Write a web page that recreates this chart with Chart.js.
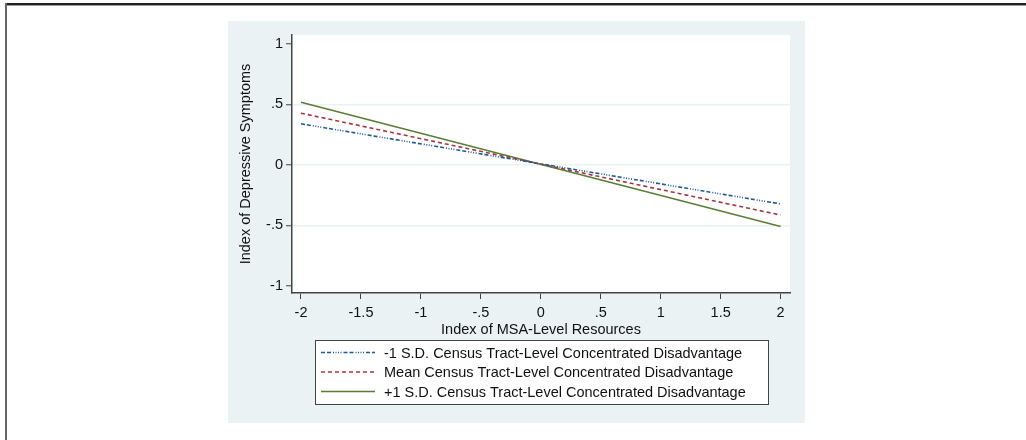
<!DOCTYPE html>
<html>
<head>
<meta charset="utf-8">
<script src="https://cdn.jsdelivr.net/npm/chart.js@4"></script>
<style>
  html, body { margin: 0; padding: 0; background: #fff; }
  #wrap { width: 1026px; height: 440px; position: relative; }
</style>
</head>
<body>
<div id="wrap"><canvas id="margins-chart"></canvas></div>
<script>
// values (predicted margins at x = -2 and x = 2)
const msaResources = [-2, 2];
const lowDisadv = [0.34, -0.323];
const meanDisadv = [0.428, -0.415];
const highDisadv = [0.519, -0.509];
const seriesLabels = [
    "-1 S.D. Census Tract-Level Concentrated Disadvantage",
    "Mean Census Tract-Level Concentrated Disadvantage",
    "+1 S.D. Census Tract-Level Concentrated Disadvantage"
];
const xTicks = [-2, -1.5, -1, -0.5, 0, 0.5, 1, 1.5, 2];
const yTicks = [-1, -0.5, 0, 0.5, 1];

const FONT = "'Liberation Sans', Arial, sans-serif";
const FSIZE = 14.5;
const PANEL = "#eaf2f3";

function pts(ys) {
    return msaResources.map((x, i) => ({ x: x, y: ys[i] }));
}

// Stata style labels: ".5" and "-.5"
function stataNum(v) {
    let s = String(Math.round(v * 100) / 100);
    return s.replace(/^(-?)0\./, "$1.");
}

const backdrop = {
    id: "backdrop",
    beforeDraw(chart) {
        const ctx = chart.ctx;
        const a = chart.chartArea;
        ctx.save();
        ctx.fillStyle = "#fff";
        ctx.fillRect(0, 0, chart.width, chart.height);
        // outer frame (top + left only)
        ctx.fillStyle = "#222";
        ctx.fillRect(5, 3, chart.width - 5, 2);
        ctx.fillStyle = "#999";
        ctx.fillRect(5, 5, chart.width - 5, 1);
        ctx.fillStyle = "#666";
        ctx.fillRect(5, 3, 2, chart.height - 3);
        // graph region
        ctx.fillStyle = PANEL;
        ctx.fillRect(228, 21, 577, 402);
        // plot region
        ctx.fillStyle = "#fff";
        ctx.fillRect(a.left, a.top, a.right - a.left, a.bottom - a.top);
        ctx.restore();
    }
};

const boxLegend = {
    id: "boxLegend",
    afterDraw(chart) {
        const ctx = chart.ctx;
        const x0 = 315, y0 = 340, w = 453, h = 64;
        ctx.save();
        ctx.fillStyle = "#fff";
        ctx.fillRect(x0, y0, w, h);
        ctx.strokeStyle = "#444";
        ctx.lineWidth = 1;
        ctx.strokeRect(x0 + 0.5, y0 + 0.5, w, h);
        ctx.font = FSIZE + "px " + FONT;
        ctx.textBaseline = "middle";
        chart.data.datasets.forEach((ds, i) => {
            const y = 352.5 + i * 19.5;
            ctx.beginPath();
            ctx.setLineDash(ds.borderDash || []);
            ctx.strokeStyle = ds.borderColor;
            ctx.lineWidth = ds.borderWidth;
            ctx.moveTo(321, y);
            ctx.lineTo(375, y);
            ctx.stroke();
            ctx.setLineDash([]);
            ctx.fillStyle = "#111";
            ctx.fillText(ds.label, 384, y + 1);
        });
        ctx.restore();
    }
};

new Chart(document.getElementById("margins-chart"), {
    type: "line",
    data: {
        datasets: [
            {
                label: seriesLabels[0],
                data: pts(lowDisadv),
                borderColor: "#1f5a94",
                borderWidth: 1.6,
                borderDash: [4, 2, 4, 2, 1, 1.5, 1, 1.5, 1, 1.5, 1, 2]
            },
            {
                label: seriesLabels[1],
                data: pts(meanDisadv),
                borderColor: "#a8343e",
                borderWidth: 1.6,
                borderDash: [4, 3]
            },
            {
                label: seriesLabels[2],
                data: pts(highDisadv),
                borderColor: "#5a7d35",
                borderWidth: 1.6
            }
        ]
    },
    options: {
        responsive: true,
        maintainAspectRatio: false,
        animation: false,
        events: [],
        parsing: false,
        elements: { point: { radius: 0 }, line: { tension: 0 } },
        layout: { padding: { left: 228, right: 236, top: 35, bottom: 101 } },
        plugins: { legend: { display: false }, tooltip: { enabled: false } },
        scales: {
            x: {
                type: "linear",
                min: -2.075,
                max: 2.078,
                afterBuildTicks: (s) => { s.ticks = xTicks.map(v => ({ value: v })); },
                afterFit: (s) => { s.height = 46; },
                border: { display: true, color: "#444", width: 1.5 },
                grid: { drawOnChartArea: false, tickLength: 6, tickColor: "#444", tickWidth: 1 },
                ticks: {
                    callback: (v) => stataNum(v),
                    color: "#111",
                    font: { family: FONT, size: FSIZE },
                    padding: 5,
                    maxRotation: 0,
                    autoSkip: false
                },
                title: {
                    display: true,
                    text: "Index of MSA-Level Resources",
                    color: "#111",
                    font: { family: FONT, size: FSIZE },
                    padding: { top: 0, bottom: 0 }
                }
            },
            y: {
                type: "linear",
                min: -1.06,
                max: 1.075,
                afterBuildTicks: (s) => { s.ticks = yTicks.map(v => ({ value: v })); },
                afterFit: (s) => { s.width = 64; },
                border: { display: true, color: "#444", width: 1.5 },
                grid: {
                    color: (c) => (Math.abs(c.tick.value) === 1 ? "rgba(0,0,0,0)" : PANEL),
                    lineWidth: 1.5,
                    tickLength: 6,
                    tickColor: "#444",
                    tickWidth: 1
                },
                ticks: {
                    callback: (v) => stataNum(v),
                    color: "#111",
                    font: { family: FONT, size: FSIZE },
                    padding: 3
                },
                title: {
                    display: true,
                    text: "Index of Depressive Symptoms",
                    color: "#111",
                    font: { family: FONT, size: FSIZE },
                    padding: { top: 9, bottom: 0 }
                }
            }
        }
    },
    plugins: [backdrop, boxLegend]
});
</script>
</body>
</html>
